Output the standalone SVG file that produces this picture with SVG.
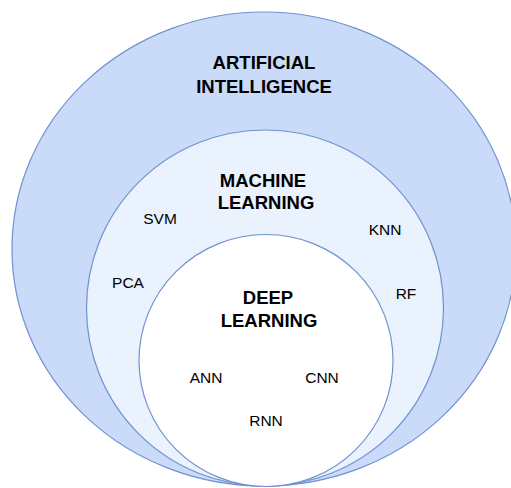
<svg xmlns="http://www.w3.org/2000/svg" width="511" height="488" viewBox="0 0 511 488">
<style>
.ring{stroke:#6f92cf;stroke-width:1.2}
.title{font-family:"Liberation Sans",Arial,sans-serif;font-weight:bold;font-size:18.5px;fill:#000;text-anchor:middle}
.item{font-family:"Liberation Sans",Arial,sans-serif;font-size:15.5px;fill:#000;text-anchor:middle}
</style>
<rect width="511" height="488" fill="#ffffff"/>
<g id="ai">
<ellipse class="ring" cx="264" cy="249" rx="252" ry="237" fill="#c9dbf8"/>
<text class="title" x="264" y="69">ARTIFICIAL</text>
<text class="title" x="264" y="93">INTELLIGENCE</text>
</g>
<g id="ml">
<ellipse class="ring" cx="265" cy="308" rx="178.5" ry="178" fill="#e9f2fd"/>
<text class="title" x="263" y="187">MACHINE</text>
<text class="title" x="266" y="209">LEARNING</text>
<text class="item" x="160" y="224">SVM</text>
<text class="item" x="128" y="288">PCA</text>
<text class="item" x="385" y="235">KNN</text>
<text class="item" x="406" y="299">RF</text>
</g>
<g id="dl">
<ellipse class="ring" cx="266" cy="360.5" rx="127" ry="126" fill="#ffffff"/>
<text class="title" x="268" y="304">DEEP</text>
<text class="title" x="269" y="327">LEARNING</text>
<text class="item" x="206" y="383">ANN</text>
<text class="item" x="322" y="383">CNN</text>
<text class="item" x="266" y="426">RNN</text>
</g>
<g id="connectors"></g>
</svg>
